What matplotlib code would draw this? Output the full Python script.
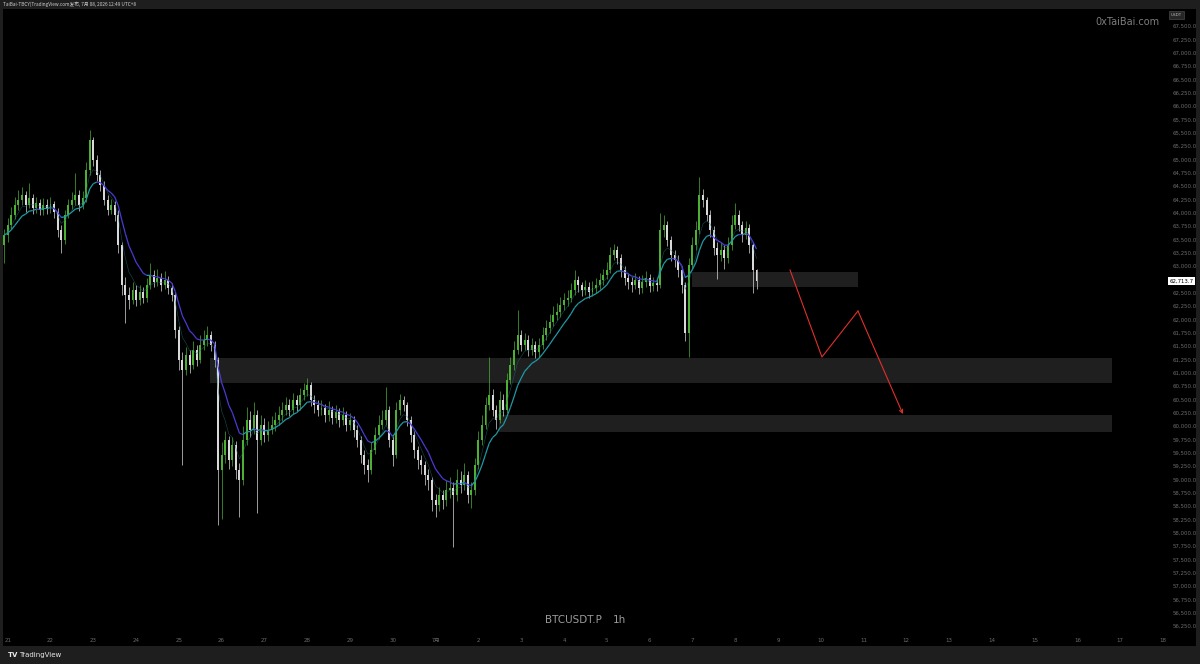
import numpy as np
import pandas as pd
import matplotlib
matplotlib.use('Agg')
import matplotlib.pyplot as plt
from matplotlib.collections import LineCollection
from matplotlib.patches import Rectangle

plt.rcParams['font.family'] = ['DejaVu Sans', 'Noto Sans CJK SC']
CJK = ['Noto Sans CJK SC', 'DejaVu Sans']

# 2h candles, x in hours since 21 Jun 00:00 (UTC+8)
first_hour = -2
step_hours = 2
open0 = 63400
closes = [
    63580, 63770, 63960, 64140, 64240, 64330, 64140, 64280, 64090, 64180,
    64050, 64140, 64090, 64160, 64010, 63680, 63490, 63960, 64140, 64240,
    64330, 64140, 64280, 64800, 65360, 64990, 64710, 64520, 64240, 64050,
    64140, 63960, 63390, 62640, 62460, 62360, 62550, 62360, 62510, 62400,
    62640, 62830, 62700, 62780, 62640, 62740, 62590, 62460, 61800, 61240,
    61050, 61330, 61140, 61430, 61240, 61520, 61610, 61710, 61520, 61240,
    59180, 59460, 59740, 59360, 59640, 59180, 58990, 59740, 60110, 59930,
    60210, 59740, 60020, 59830, 59930, 60020, 60110, 60210, 60300, 60390,
    60300, 60490, 60390, 60580, 60680, 60770, 60490, 60390, 60300, 60340,
    60210, 60300, 60150, 60260, 60110, 60210, 60020, 60110, 59930, 59740,
    59460, 59270, 59180, 59550, 59830, 60020, 60110, 60300, 59740, 59460,
    60300, 60490, 60390, 60110, 59830, 59550, 59360, 59270, 59080, 58990,
    58610, 58520, 58710, 58610, 58800, 58840, 58710, 58990, 58890, 59080,
    58710, 58800, 59270, 59740, 60020, 60390, 60580, 60300, 60110, 60490,
    60300, 60860, 61140, 61430, 61710, 61520, 61610, 61430, 61520, 61390,
    61520, 61710, 61840, 61950, 62080, 62140, 62270, 62360, 62400, 62550,
    62740, 62640, 62550, 62610, 62510, 62590, 62640, 62740, 62830, 62930,
    63210, 63300, 63150, 62930, 62780, 62700, 62640, 62740, 62590, 62700,
    62780, 62630, 62680, 62640, 63680, 63770, 63490, 63210, 63110, 62930,
    62640, 61750, 63020, 63390, 63680, 64330, 64240, 63960, 63680, 63340,
    63210, 63300, 63150, 63390, 63770, 63960, 63770, 63580, 63710, 63390,
    62930, 62713.7,
]
highs = [
    63700, 63900, 64100, 64300, 64420, 64480, 64400, 64560, 64350, 64300,
    64260, 64280, 64250, 64300, 64220, 64080, 63760, 64050, 64250, 64380,
    64740, 64420, 64400, 64950, 65550, 65420, 65080, 64800, 64600, 64330,
    64260, 64220, 64050, 63450, 62800, 62600, 62700, 62650, 62640, 62600,
    62780, 63050, 62930, 62950, 62860, 62900, 62820, 62680, 62520, 61880,
    61380, 61480, 61420, 61600, 61520, 61700, 61800, 61880, 61780, 61600,
    61300, 59700, 59900, 59820, 59800, 59720, 59300, 60000, 60350, 60280,
    60450, 60300, 60200, 60150, 60100, 60180, 60260, 60380, 60450, 60550,
    60500, 60620, 60580, 60720, 60800, 60900, 60820, 60580, 60480, 60480,
    60420, 60460, 60380, 60400, 60330, 60360, 60280, 60250, 60180, 60010,
    59820, 59550, 59380, 59700, 59980, 60200, 60300, 60730, 60380, 59820,
    60450, 60600, 60560, 60450, 60180, 59900, 59620, 59450, 59350, 59200,
    59050, 58720, 58850, 58800, 58980, 59050, 58950, 59200, 59150, 59300,
    59150, 58950, 59400, 59900, 60200, 60550, 61300, 60700, 60400, 60650,
    60600, 61000, 61300, 61600, 62170, 61800, 61750, 61700, 61650, 61600,
    61650, 61850, 61980, 62100, 62250, 62300, 62420, 62500, 62550, 62680,
    62920, 62820, 62700, 62740, 62700, 62720, 62780, 62860, 62950, 63080,
    63350, 63420, 63380, 63220, 63000, 62860, 62800, 62860, 62820, 62840,
    62900, 62850, 62800, 62780, 64000, 63960, 63850, 63560, 63300, 63200,
    63000, 62700, 63150, 63550, 63850, 64670, 64450, 64300, 64050, 63750,
    63450, 63450, 63400, 63550, 63950, 64180, 64050, 63850, 63850, 63780,
    63450, 62950,
]
lows = [
    63050, 63450, 63700, 63880, 64050, 64150, 64020, 64080, 63980, 64000,
    63950, 63960, 63980, 64000, 63900, 63550, 63250, 63420, 63900, 64060,
    64150, 64030, 64060, 64200, 64700, 64880, 64600, 64400, 64150, 63950,
    63980, 63850, 63250, 62450, 61930, 62200, 62280, 62250, 62260, 62300,
    62330, 62560, 62600, 62620, 62540, 62560, 62480, 62350, 61650, 61050,
    59260, 60950, 61000, 61060, 61120, 61180, 61420, 61500, 61400, 61100,
    58150, 58260, 59300, 59200, 59250, 59000, 58290, 58900, 59650, 59800,
    59850, 58370, 59650, 59700, 59720, 59850, 59900, 60020, 60100, 60200,
    60180, 60220, 60280, 60300, 60480, 60560, 60380, 60250, 60180, 60200,
    60080, 60100, 60030, 60060, 59980, 60020, 59900, 59930, 59800, 59600,
    59300, 59100, 58950, 59100, 59480, 59760, 59950, 60020, 59600, 59250,
    59400, 60200, 60280, 60000, 59700, 59400, 59200, 59100, 58900, 58800,
    58400, 58300, 58400, 58450, 58500, 58650, 57730, 58600, 58750, 58800,
    58550, 58460, 58700, 59200, 59650, 59950, 60300, 60180, 59950, 60050,
    60180, 60250, 60780, 61050, 61350, 61400, 61420, 61320, 61330, 61280,
    61300, 61450, 61620, 61750, 61880, 61990, 62050, 62180, 62250, 62320,
    62460, 62520, 62430, 62460, 62400, 62430, 62500, 62560, 62650, 62760,
    62860, 63120, 63030, 62800, 62650, 62560, 62520, 62560, 62470, 62500,
    62600, 62520, 62540, 62530, 62580, 63550, 63380, 63100, 62980, 62800,
    62500, 61600, 61290, 62950, 63300, 63600, 64100, 63850, 63550, 63200,
    62750, 63100, 62950, 63050, 63300, 63700, 63650, 63450, 63500, 63250,
    62490, 62560,
]

# grey zones: (start hour, end hour, low price, high price)
zones = [
    (383.8, 476.9, 62613, 62894),
    (113.5, 619.3, 60807, 61276),
    (275.5, 619.3, 59888, 60207),
]
# red projected path
path_hours = [438.8, 456.7, 476.9, 502.1]
path_prices = [62925, 61294, 62157, 60226]

day_labels = ['21', '22', '23', '24', '25', '26', '27', '28', '29', '30', '7月',
              '2', '3', '4', '5', '6', '7', '8', '9', '10', '11', '12', '13',
              '14', '15', '16', '17', '18']
price_ticks = np.arange(56250, 67501, 250)
last_price = 62713.7

W, H = 1200, 664
fig = plt.figure(figsize=(12, 6.64), dpi=100)
fig.patch.set_facecolor('#1e1e1e')
fig.add_artist(Rectangle((3 / W, 1 - 646 / H), 1193 / W, 637 / H,
                         transform=fig.transFigure, facecolor='black',
                         edgecolor='none', zorder=0))

ax = fig.add_axes([3 / W, 1 - 632 / H, 1165 / W, 623 / H])
ax.set_facecolor('black')
for s in ax.spines.values():
    s.set_visible(False)

c = np.array(closes, dtype=float)
hi = np.array(highs, dtype=float)
lo = np.array(lows, dtype=float)
o = np.concatenate([[open0], c[:-1]])
x = first_hour + step_hours * np.arange(len(c))
up = c >= o
cols = np.where(up, '#4cb034', '#d9d9d9')

for x0, x1, p0, p1 in zones:
    ax.add_patch(Rectangle((x0, p0), x1 - x0, p1 - p0, facecolor='#1f1f1f',
                           edgecolor='none', zorder=0.5))

ax.vlines(x, lo, hi, colors=cols, lw=0.5, zorder=2)
ax.bar(x, np.maximum(np.abs(c - o), 15), bottom=np.minimum(o, c), width=1.1,
       color=cols, linewidth=0, zorder=2)

# moving averages, slope coloured
ema = pd.Series(c).ewm(span=10, adjust=False).mean().values
ema_fast = pd.Series(c).ewm(span=5, adjust=False).mean().values
ax.plot(x, ema_fast, color='#1d6f74', lw=0.4, alpha=0.7, zorder=3)
pts = np.column_stack([x, ema])
segs = np.stack([pts[:-1], pts[1:]], axis=1)
seg_cols = np.where(np.diff(ema) >= 0, '#1f9aa6', '#4a3ad6')
ax.add_collection(LineCollection(segs, colors=seg_cols, linewidths=0.9, zorder=3))

ax.plot(path_hours[:-1], path_prices[:-1], color='#e0302c', lw=0.8, zorder=4)
ax.annotate('', xy=(path_hours[-1], path_prices[-1]),
            xytext=(path_hours[-2], path_prices[-2]),
            arrowprops=dict(arrowstyle='->', color='#e0302c', lw=0.8,
                            mutation_scale=6, shrinkA=0, shrinkB=0), zorder=4)

ax.set_xlim(-2.64, 650.8)
ax.set_ylim(56138, 67819)
ax.yaxis.tick_right()
ax.set_yticks(price_ticks)
# the last price tag hides the 62,750 label
ax.set_yticklabels(['' if v == 62750 else f'{v:,.1f}' for v in price_ticks])
ax.tick_params(axis='y', length=0, pad=3, labelsize=3.9, labelcolor='#6c6c6c')
ax.set_xticks(np.arange(0, 24 * len(day_labels), 24))
ax.set_xticklabels(day_labels)
ax.tick_params(axis='x', length=0, pad=4, labelsize=4, labelcolor='#6c6c6c')
for lbl in ax.get_xticklabels():
    if lbl.get_text() == '7月':
        lbl.set_family(CJK)

# last price tag
ax.text(1.0015, last_price, f'{last_price:,.1f}', transform=ax.get_yaxis_transform(),
        ha='left', va='center', fontsize=3.9, color='black', zorder=6,
        bbox=dict(boxstyle='square,pad=0.25', facecolor='white', edgecolor='none'))

fig.text(1171 / W, 1 - 15 / H, 'USDT', fontsize=3, color='#bbbbbb', ha='left', va='center',
         bbox=dict(boxstyle='square,pad=0.4', facecolor='#262626', edgecolor='#555555', lw=0.4))
fig.text(1160 / W, 1 - 22 / H, '0xTaiBai.com', fontsize=7, color='#7d7d7d',
         ha='right', va='center')
fig.text(545 / W, 1 - 620 / H, 'BTCUSDT.P', fontsize=7.5, color='#9a9a9a',
         ha='left', va='center')
fig.text(613 / W, 1 - 620 / H, '1h', fontsize=7.5, color='#9a9a9a',
         ha='left', va='center')
fig.text(3 / W, 1 - 4.5 / H, 'TaiBai-TBCY(TradingView.com发布, 7月 08, 2026 12:49 UTC+8',
         fontsize=3.4, color='#cfcfcf', ha='left', va='center', family=CJK)
fig.text(8 / W, 1 - 655 / H, 'TV', fontsize=5, fontweight='bold', color='#e8e8e8',
         ha='left', va='center')
fig.text(19 / W, 1 - 655 / H, 'TradingView', fontsize=5, color='#e8e8e8',
         ha='left', va='center')

fig.savefig('out.png', dpi=100, facecolor=fig.get_facecolor())
